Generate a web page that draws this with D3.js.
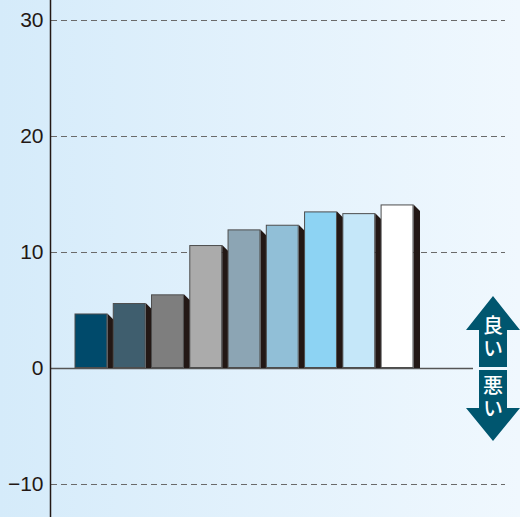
<!DOCTYPE html>
<html><head><meta charset="utf-8">
<script src="https://cdn.jsdelivr.net/npm/d3@7"></script>
<style>html,body{margin:0;padding:0;background:#fff}svg{display:block}</style>
</head><body>
<script>
const categories = ["A","B","C","D","E","F","G","H","I"];
const values = [4.7, 5.6, 6.35, 10.6, 11.95, 12.35, 13.5, 13.35, 14.1];
const colors = ["#004a6b","#3f5e6e","#7e7e7e","#ababab","#8ca5b4","#91bfd7","#8dd3f3","#c5e7f9","#ffffff"];
const yTicks = [-10, 0, 10, 20, 30];
const yTickLabels = ["\u221210","0","10","20","30"];
const arrowLabels = ["良い","悪い"];

const W = 520, H = 517;
const svg = d3.select("body").append("svg").attr("width", W).attr("height", H);
const defs = svg.append("defs");
const g = defs.append("linearGradient").attr("id","bg").attr("x1","0").attr("x2","1").attr("y1","0").attr("y2","0");
g.append("stop").attr("offset","0").attr("stop-color","#d5ebfa");
g.append("stop").attr("offset","1").attr("stop-color","#f0f8fe");
svg.append("rect").attr("width",W).attr("height",H).attr("fill","url(#bg)");

const y = d3.scaleLinear().domain([-10, 30]).range([484, 20]);
const x = d3.scaleBand().domain(categories).range([74.5, 413.5]).paddingInner(0.14).paddingOuter(0);

// gridlines
svg.append("g").selectAll("line").data(yTicks.filter(d => d !== 0)).join("line")
  .attr("x1", 51).attr("x2", 505)
  .attr("y1", d => y(d) + 0.5).attr("y2", d => y(d) + 0.5)
  .attr("stroke", "#6a6a6a").attr("stroke-width", 1).attr("stroke-dasharray", "6,4");

// zero line
svg.append("line").attr("x1", 50).attr("x2", 473).attr("y1", y(0)+0.5).attr("y2", y(0)+0.5)
  .attr("stroke", "#555").attr("stroke-width", 1.3);

// bars with shadows
const off = 6.5;
const bars = svg.append("g");
values.forEach((v, i) => {
  const x0 = x(categories[i]), x1 = x0 + x.bandwidth(), t = y(v), b = y(0);
  bars.append("path")
    .attr("d", `M${x1},${t} L${x1+off},${t+off} L${x1+off},${b} L${x1},${b} Z`)
    .attr("fill", "#231815");
  bars.append("rect")
    .attr("x", x0 + 0.5).attr("y", t + 0.5)
    .attr("width", x.bandwidth() - 1).attr("height", b - t - 1)
    .attr("fill", colors[i]).attr("stroke", "#4d4d4d").attr("stroke-width", 1);
});

// y axis
const axis = d3.axisLeft(y).tickValues(yTicks).tickFormat((d, i) => yTickLabels[i]).tickSize(0).tickPadding(7);
const ax = svg.append("g").attr("transform", "translate(50.5,0)").call(axis);
ax.select(".domain").remove();
ax.selectAll("text").attr("font-family", "'Liberation Sans', Arial, sans-serif").attr("font-size", 21).attr("fill", "#231815");
svg.append("line").attr("x1", 50.5).attr("x2", 50.5).attr("y1", 0).attr("y2", H).attr("stroke", "#231815").attr("stroke-width", 1.5);

// arrow
const cx = 493, ac = "#00566f";
const up = [[cx,296],[cx+27,330],[cx+14,330],[cx+14,367],[cx-14,367],[cx-14,330],[cx-27,330]];
const dn = [[cx,441],[cx+27,408],[cx+14,408],[cx+14,370],[cx-14,370],[cx-14,408],[cx-27,408]];
svg.append("polygon").attr("points", up.map(p=>p.join(",")).join(" ")).attr("fill", ac);
svg.append("polygon").attr("points", dn.map(p=>p.join(",")).join(" ")).attr("fill", ac);
svg.append("g").selectAll("text").data([[arrowLabels[0], 338], [arrowLabels[1], 398]]).join("text")
  .attr("x", cx).attr("y", d => d[1]).attr("text-anchor","middle")
  .style("writing-mode","vertical-rl").style("text-orientation","upright")
  .attr("letter-spacing", 3)
  .attr("font-family","'Noto Sans CJK JP', sans-serif").attr("font-size", 20).attr("font-weight", 500)
  .attr("fill","#fff").text(d => d[0]);
</script>
</body></html>
